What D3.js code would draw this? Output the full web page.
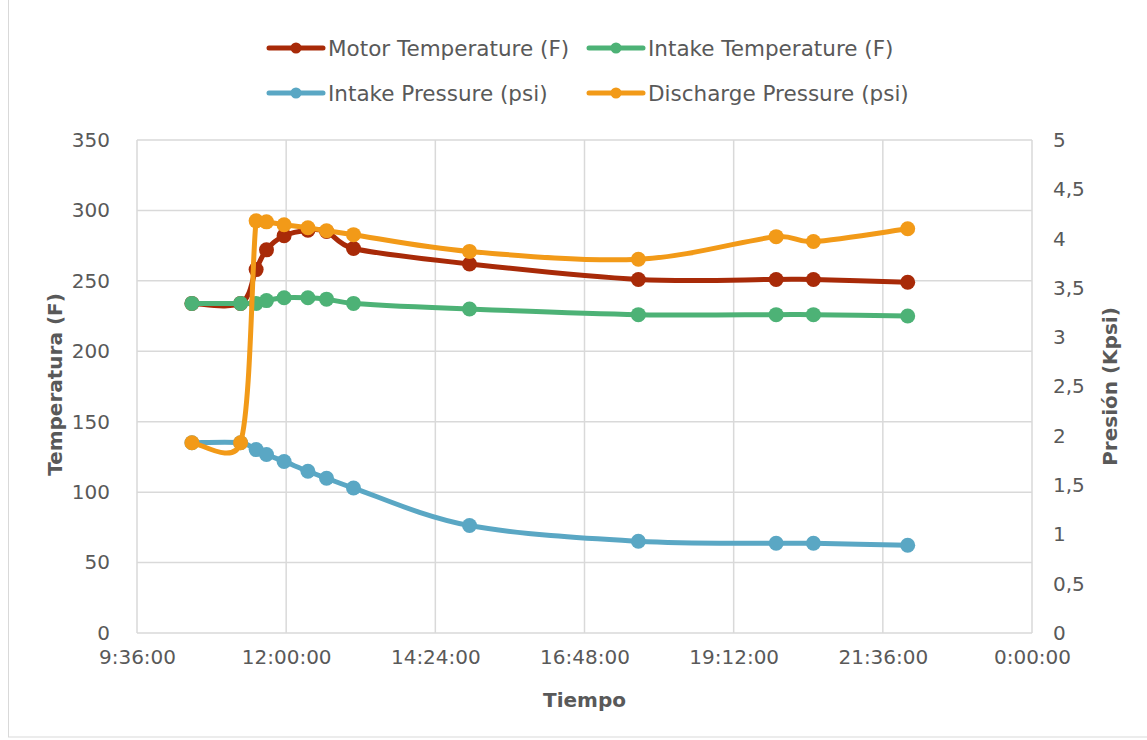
<!DOCTYPE html>
<html>
<head>
<meta charset="utf-8">
<script src="https://cdn.jsdelivr.net/npm/d3@7"></script>
<style>
  body { margin: 0; background: #fff; }
  text { font-family: "DejaVu Sans", sans-serif; fill: #595959; }
</style>
</head>
<body>
<svg id="chart" width="1147" height="740"></svg>
<script>
// sample times (h:mm)
const times = ["10:29", "11:16", "11:31", "11:41", "11:58", "12:21", "12:39", "13:05", "14:57", "17:40", "19:53", "20:29", "22:00"];

// left axis, F
const motorTemp  = [234, 234, 258, 272, 282, 286, 285, 273, 262, 251, 251, 251, 249];
const intakeTemp = [234, 234, 234, 236, 238, 238, 237, 234, 230, 226, 226, 226, 225];

// right axis, Kpsi
const intakePressure    = [1.93, 1.93, 1.86, 1.81, 1.74, 1.64, 1.57, 1.47, 1.09, 0.93, 0.91, 0.91, 0.89];
const dischargePressure = [1.93, 1.93, 4.18, 4.17, 4.14, 4.11, 4.08, 4.04, 3.87, 3.79, 4.02, 3.97, 4.10];

const seriesNames  = ["Motor Temperature (F)", "Intake Temperature (F)", "Intake Pressure (psi)", "Discharge Pressure (psi)"];
const seriesColors = ["#a82a08", "#4db276", "#5aa7c4", "#f29a18"];
const leftTicks  = [0, 50, 100, 150, 200, 250, 300, 350];
const rightTicks = [0, 0.5, 1, 1.5, 2, 2.5, 3, 3.5, 4, 4.5, 5];

const parseTime = d3.timeParse("%Y-%m-%d %H:%M");
const xs = times.map(t => parseTime("1900-01-01 " + t));
const xStart = parseTime("1900-01-01 09:36");
const xEnd = parseTime("1900-01-02 00:00");

const svg = d3.select("#chart");
const plotLeft = 137, plotRight = 1032, plotTop = 140, plotBottom = 633;

// chart frame
svg.append("rect")
  .attr("x", 8.5).attr("y", -2).attr("width", 1150).attr("height", 739)
  .attr("fill", "none").attr("stroke", "#d9d9d9");

const x = d3.scaleTime().domain([xStart, xEnd]).range([plotLeft, plotRight]);
const yL = d3.scaleLinear().domain([0, 350]).range([plotBottom, plotTop]);
const yR = d3.scaleLinear().domain([0, 5]).range([plotBottom, plotTop]);

const xTicks = d3.range(0, 7).map(i => d3.timeMinute.offset(xStart, i * 144));

// grid
const grid = svg.append("g").attr("stroke", "#d9d9d9").attr("stroke-width", 1.5);
grid.selectAll("line.h").data(leftTicks).enter().append("line")
  .attr("x1", plotLeft).attr("x2", plotRight)
  .attr("y1", d => yL(d)).attr("y2", d => yL(d));
grid.selectAll("line.v").data(xTicks).enter().append("line")
  .attr("x1", d => x(d)).attr("x2", d => x(d))
  .attr("y1", plotTop).attr("y2", plotBottom);

// axes (labels only, Excel style)
const fmtTime = d3.timeFormat("%-H:%M:%S");
const axX = svg.append("g").attr("transform", `translate(0,${plotBottom + 14})`)
  .call(d3.axisBottom(x).tickValues(xTicks).tickFormat(fmtTime).tickSize(0));
const axL = svg.append("g").attr("transform", `translate(${plotLeft - 24},0)`)
  .call(d3.axisLeft(yL).tickValues(leftTicks).tickSize(0));
const axR = svg.append("g").attr("transform", `translate(${plotRight + 18},0)`)
  .call(d3.axisRight(yR).tickValues(rightTicks).tickFormat(d => String(d).replace(".", ",")).tickSize(0));
[axX, axL, axR].forEach(a => {
  a.select(".domain").remove();
  a.selectAll("text").style("font-family", "DejaVu Sans").style("font-size", "20px").attr("fill", "#595959");
});

// axis titles
svg.append("text").attr("x", (plotLeft + plotRight) / 2).attr("y", 707)
  .attr("text-anchor", "middle").style("font-size", "20px").style("font-weight", "bold").text("Tiempo");
svg.append("text").attr("transform", `translate(62,${(plotTop + plotBottom) / 2 - 2}) rotate(-90)`)
  .attr("text-anchor", "middle").style("font-size", "20px").style("font-weight", "bold").text("Temperatura (F)");
svg.append("text").attr("transform", `translate(1117,${(plotTop + plotBottom) / 2}) rotate(-90)`)
  .attr("text-anchor", "middle").style("font-size", "20px").style("font-weight", "bold").text("Presión (Kpsi)");

// Excel-like smoothing: catmull-rom arms, shortened on short segments
function smoothPath(pts) {
  const p = d3.path();
  p.moveTo(pts[0][0], pts[0][1]);
  const clamp = (a, maxLen) => {
    const len = Math.hypot(a[0], a[1]);
    return len > maxLen ? [a[0] * maxLen / len, a[1] * maxLen / len] : a;
  };
  for (let i = 0; i < pts.length - 1; i++) {
    const p0 = pts[i - 1] || pts[i], p1 = pts[i], p2 = pts[i + 1], p3 = pts[i + 2] || pts[i + 1];
    const seg = Math.hypot(p2[0] - p1[0], p2[1] - p1[1]);
    const a1 = clamp([(p2[0] - p0[0]) / 6, (p2[1] - p0[1]) / 6], seg * 0.5);
    const a2 = clamp([(p3[0] - p1[0]) / 6, (p3[1] - p1[1]) / 6], seg * 0.5);
    p.bezierCurveTo(p1[0] + a1[0], p1[1] + a1[1], p2[0] - a2[0], p2[1] - a2[1], p2[0], p2[1]);
  }
  return p.toString();
}

// series
const series = [
  { vals: motorTemp, y: yL },
  { vals: intakeTemp, y: yL },
  { vals: intakePressure, y: yR },
  { vals: dischargePressure, y: yR }
];

series.forEach((s, i) => {
  const pts = s.vals.map((v, j) => [x(xs[j]), s.y(v)]);
  const g = svg.append("g");
  g.append("path").attr("d", smoothPath(pts))
    .attr("fill", "none").attr("stroke", seriesColors[i])
    .attr("stroke-width", 5).attr("stroke-linejoin", "round").attr("stroke-linecap", "round");
  g.selectAll("circle").data(pts).enter().append("circle")
    .attr("cx", d => d[0]).attr("cy", d => d[1]).attr("r", 7.5)
    .attr("fill", seriesColors[i]);
});

// legend
const legendPos = [[269, 48], [589, 48], [269, 93], [589, 93]];
seriesNames.forEach((name, i) => {
  const [lx, ly] = legendPos[i];
  const g = svg.append("g").attr("transform", `translate(${lx},${ly})`);
  g.append("line").attr("x1", 0).attr("x2", 54).attr("y1", 0).attr("y2", 0)
    .attr("stroke", seriesColors[i]).attr("stroke-width", 5).attr("stroke-linecap", "round");
  g.append("circle").attr("cx", 27).attr("cy", 0).attr("r", 5.5).attr("fill", seriesColors[i]);
  g.append("text").attr("x", 59).attr("y", 0).attr("dy", "0.35em")
    .style("font-size", "21.5px").text(name);
});
</script>
</body>
</html>
